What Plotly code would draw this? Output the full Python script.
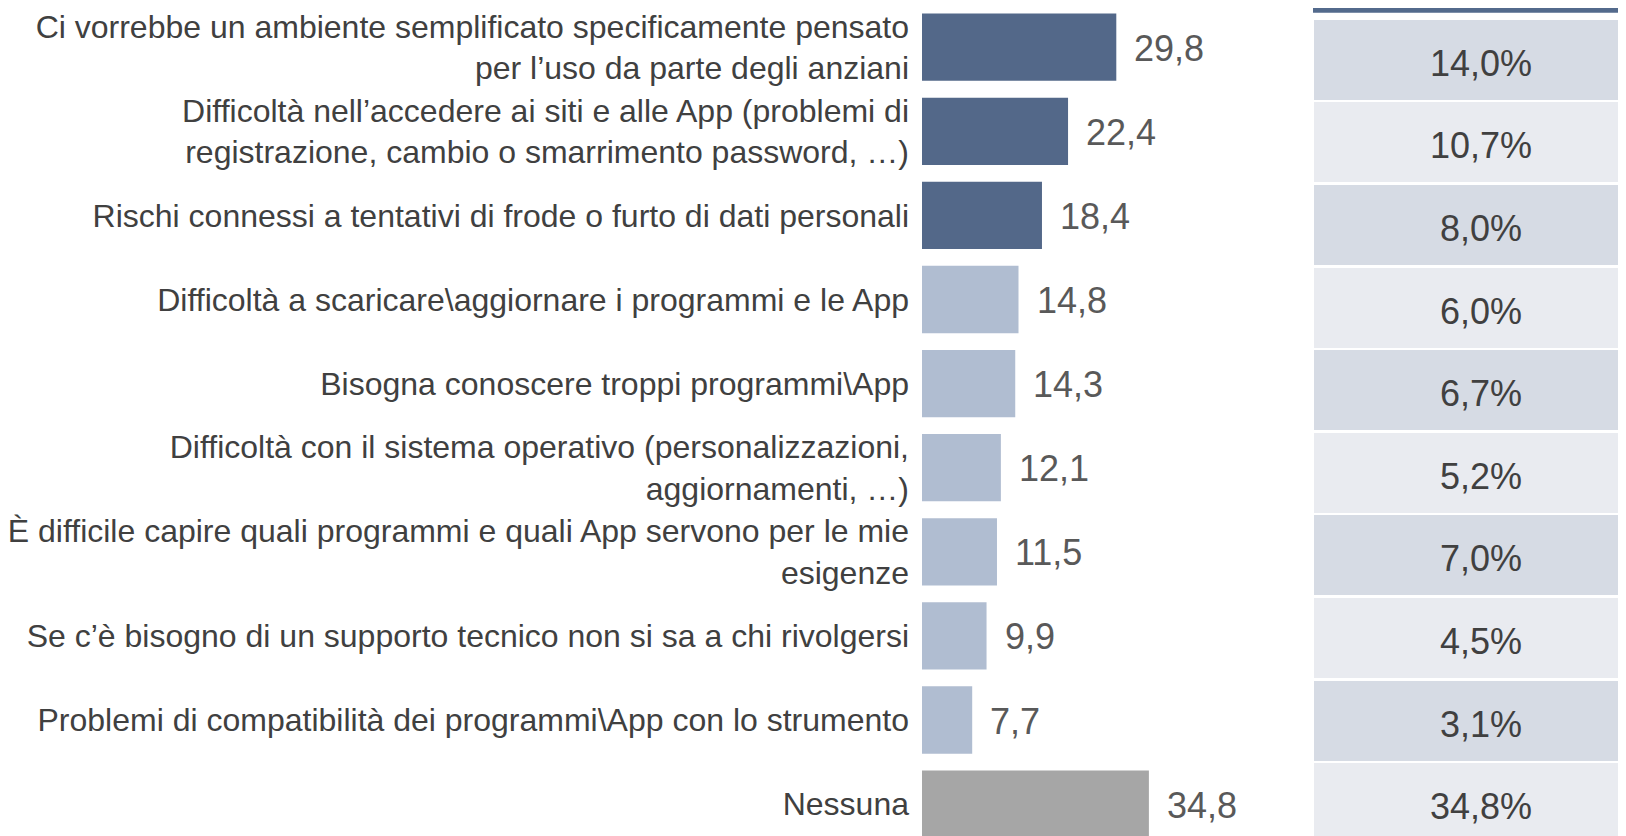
import plotly.graph_objects as go

# answers (top to bottom) and their shares
labels = [
    "Ci vorrebbe un ambiente semplificato specificamente pensato<br>per l’uso da parte degli anziani",
    "Difficoltà nell’accedere ai siti e alle App (problemi di<br>registrazione, cambio o smarrimento password, …)",
    "Rischi connessi a tentativi di frode o furto di dati personali",
    "Difficoltà a scaricare\\aggiornare i programmi e le App",
    "Bisogna conoscere troppi programmi\\App",
    "Difficoltà con il sistema operativo (personalizzazioni,<br>aggiornamenti, …)",
    "È difficile capire quali programmi e quali App servono per le mie<br>esigenze",
    "Se c’è bisogno di un supporto tecnico non si sa a chi rivolgersi",
    "Problemi di compatibilità dei programmi\\App con lo strumento",
    "Nessuna",
]
values = [29.8, 22.4, 18.4, 14.8, 14.3, 12.1, 11.5, 9.9, 7.7, 34.8]
table_values = [14.0, 10.7, 8.0, 6.0, 6.7, 5.2, 7.0, 4.5, 3.1, 34.8]

DARK = "#536889"
LIGHT = "#b0bdd1"
GREY = "#a6a6a6"
bar_colors = [DARK] * 3 + [LIGHT] * 6 + [GREY]
row_colors = ["#d6dbe4" if i % 2 == 0 else "#e9ebf0" for i in range(len(table_values))]

# the page body adds an 8px margin, so the figure is a bit larger than the window
W, H = 1641, 840
FONT = "Liberation Sans, Arial, sans-serif"


def fmt(v):
    return f"{v:.1f}".replace(".", ",")


fig = go.Figure()
fig.add_trace(go.Bar(
    x=values,
    y=labels,
    orientation="h",
    marker=dict(color=bar_colors, line=dict(width=0)),
    showlegend=False,
    hoverinfo="skip",
))

for lab, v in zip(labels, values):
    fig.add_annotation(
        x=v, y=lab, text=fmt(v), showarrow=False,
        xanchor="left", xshift=16, yshift=-1,
        font=dict(family=FONT, size=36, color="#595959"),
    )

# blank first line pushes the value down to the middle of the cell
cell_text = [
    f"\u00a0<br><span style='font-size:36px'>{fmt(v)}%</span>" for v in table_values
]
fig.add_trace(go.Table(
    domain=dict(x=[1305 / W, 1], y=[0, 1]),
    header=dict(values=[""], height=10.5, fill_color="white",
                line=dict(color="white", width=0)),
    cells=dict(
        values=[cell_text],
        height=82.6,
        align="center",
        fill_color=[row_colors],
        line=dict(color="white", width=2.5),
        font=dict(family=FONT, size=22.5, color="#404040"),
    ),
))

fig.add_shape(type="rect", xref="paper", yref="paper",
              x0=1305 / W, x1=1, y0=1 - 4.7 / H, y1=1,
              fillcolor="#536a8c", line_width=0, layer="above")

fig.update_layout(
    width=W, height=H,
    margin=dict(l=0, r=0, t=0, b=0),
    plot_bgcolor="white", paper_bgcolor="white",
    bargap=0.2,
    font=dict(family=FONT, color="#404040"),
    xaxis=dict(domain=[914 / W, 1282 / W], range=[0, 368 / 6.52],
               visible=False),
    yaxis=dict(categoryorder="array", categoryarray=labels,
               range=[(H - 39.2) / 84.1, -39.2 / 84.1],
               showgrid=False, zeroline=False,
               showline=False, ticks="", ticklabelstandoff=12,
               tickfont=dict(family=FONT, size=32, color="#404040"),
               automargin=False),
)

fig.write_html("out.html")
